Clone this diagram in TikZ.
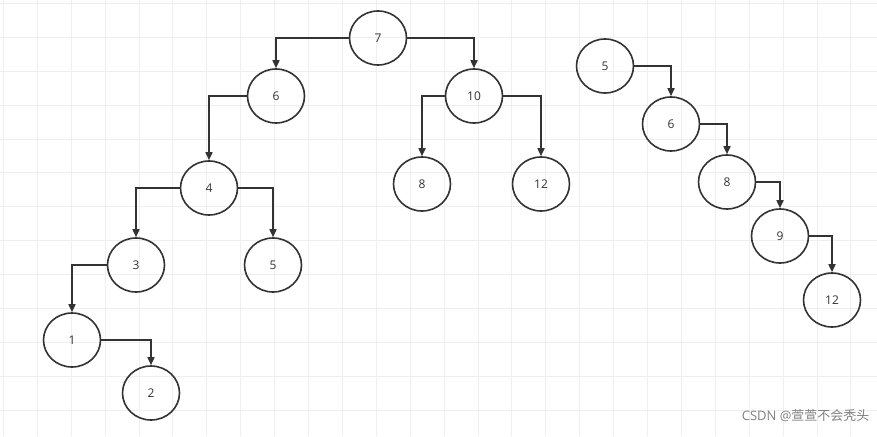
\documentclass[tikz,border=0pt]{standalone}
\usepackage{fontspec}
\setmainfont{Open Sans}
\newfontfamily\cjk{Noto Sans CJK SC}
\usetikzlibrary{shapes.geometric,arrows.meta}
\definecolor{gridc}{HTML}{EFEFEF}
\definecolor{ink}{HTML}{333333}
\begin{document}
\begin{tikzpicture}[x=1pt,y=-1pt,
  nd/.style={ellipse,draw=ink,line width=1.6pt,minimum width=57pt,minimum height=54pt,inner sep=0pt,font=\fontsize{12}{14}\selectfont,text=ink},
  ed/.style={draw=ink,line width=1.6pt,-{Triangle[length=8pt,width=7pt]}}]
\useasboundingbox (0,0) rectangle (877,436);
\fill[white] (0,0) rectangle (877,436);
\foreach \i in {0,...,25} {\draw[gridc,line width=0.8pt] (3.3+33.9*\i,0) -- (3.3+33.9*\i,436);}
\foreach \i in {0,...,12} {\draw[gridc,line width=0.8pt] (0,3.3+33.9*\i) -- (877,3.3+33.9*\i);}
\node[nd] (n7) at (378,38) {7};
\node[nd] (n6) at (276,96) {6};
\node[nd] (n10) at (474,96) {10};
\node[nd] (n4) at (209,188) {4};
\node[nd] (n8) at (422,184) {8};
\node[nd] (n12) at (541,184) {12};
\node[nd] (n3) at (136,265) {3};
\node[nd] (n5) at (273,265) {5};
\node[nd] (n1) at (72,340) {1};
\node[nd] (n2) at (151,393) {2};
\node[nd] (r5) at (605,66) {5};
\node[nd] (r6) at (671,124) {6};
\node[nd] (r8) at (727,182) {8};
\node[nd] (r9) at (780,236) {9};
\node[nd] (r12) at (832,300) {12};
\draw[ed] (n7.west) -| (n6.north);
\draw[ed] (n7.east) -| (n10.north);
\draw[ed] (n6.west) -| (n4.north);
\draw[ed] (n10.west) -| (n8.north);
\draw[ed] (n10.east) -| (n12.north);
\draw[ed] (n4.west) -| (n3.north);
\draw[ed] (n4.east) -| (n5.north);
\draw[ed] (n3.west) -| (n1.north);
\draw[ed] (n1.east) -| (n2.north);
\draw[ed] (r5.east) -| (r6.north);
\draw[ed] (r6.east) -| (r8.north);
\draw[ed] (r8.east) -| (r9.north);
\draw[ed] (r9.east) -| (r12.north);
\node[anchor=east,text=gray,font=\fontsize{13}{15}\selectfont] (wm) at (873,416) {CSDN @{\cjk 萱萱不会秃头}};
\end{tikzpicture}
\end{document}
